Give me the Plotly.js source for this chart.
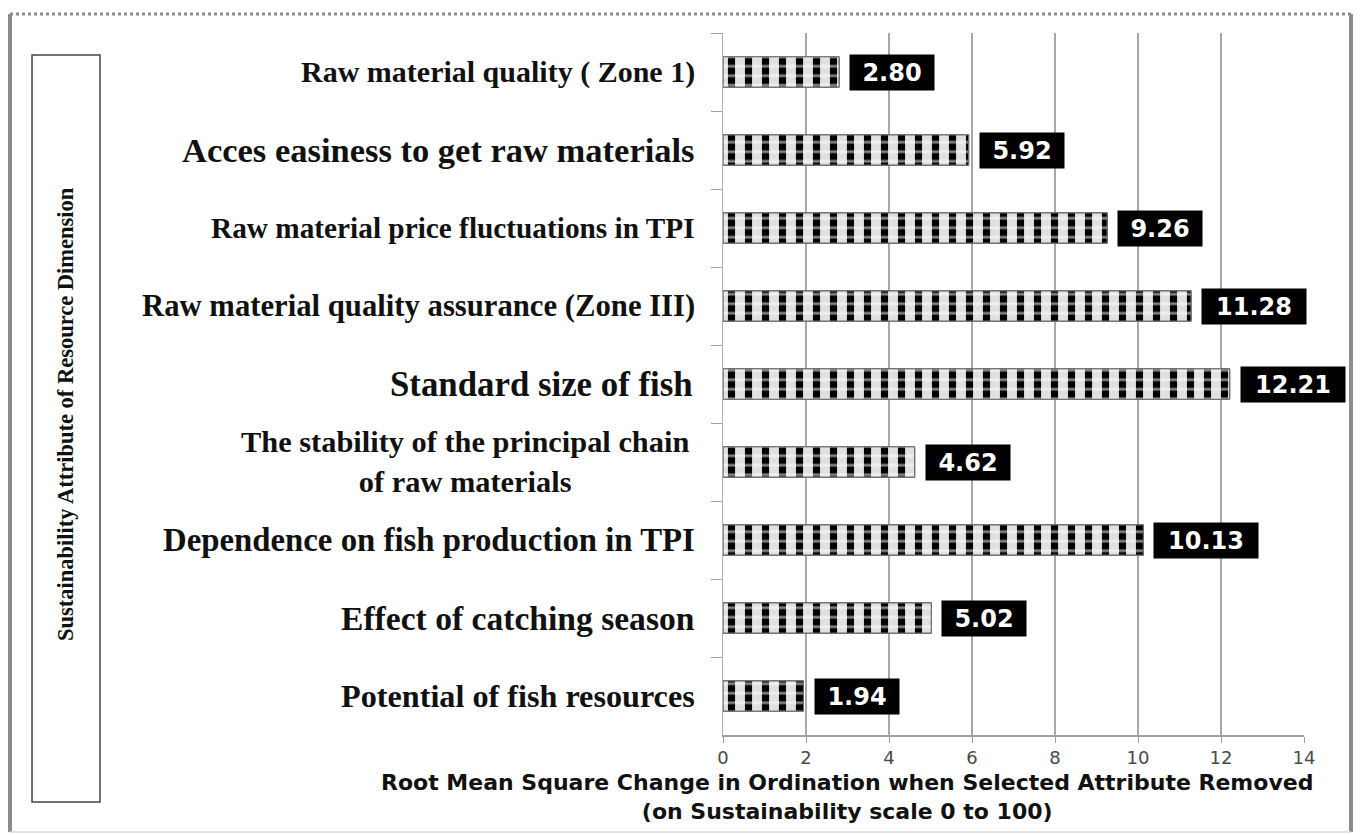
<!DOCTYPE html>
<html>
<head>
<meta charset="utf-8">
<script src="https://cdn.plot.ly/plotly-3.0.1.min.js"></script>
<style>
  html, body { margin: 0; padding: 0; background: #ffffff; }
  #chart { width: 1360px; height: 835px; }
</style>
</head>
<body>
<div id="chart"></div>
<script>
// Attributes of the resource dimension, listed top to bottom
const attributes = [
  "Raw material quality ( Zone 1)",
  "Acces easiness to get raw materials",
  "Raw material price fluctuations in TPI",
  "Raw material quality assurance (Zone III)",
  "Standard size of fish",
  "The stability of the principal chain<br>of raw materials",
  "Dependence on fish production in TPI",
  "Effect of catching season",
  "Potential of fish resources"
];

// Root mean square change for each attribute
const rmsChange = [2.80, 5.92, 9.26, 11.28, 12.21, 4.62, 10.13, 5.02, 1.94];

// Axis ticks
const xTicks = [0, 2, 4, 6, 8, 10, 12, 14];

// Text
const xTitle = "Root Mean Square Change in Ordination when Selected Attribute Removed<br>(on Sustainability scale 0 to 100)";
const yTitle = "Sustainability Attribute of Resource Dimension";

// Per-label font sizes and right-edge offsets for the attribute names
const labelSizes = [30, 34.5, 29.3, 30.7, 34.8, 30.4, 32.8, 33.6, 32.2];
const labelShift = [-26, -26, -26, -26, -28, -32, -26, -26, -26];

const barWidth = 0.39;

// Base fill: black vertical blocks on a pale ground
const barBase = {
  type: "bar",
  orientation: "h",
  x: rmsChange,
  y: attributes,
  width: barWidth,
  marker: {
    color: "#e0e0e0",
    line: { color: "#6a6a6a", width: 1 },
    pattern: { shape: "|", fgcolor: "#000000", bgcolor: "#e0e0e0", size: 17, solidity: 0.42 }
  },
  hoverinfo: "skip",
  showlegend: false
};

// Overlay: thin white rows that cut the blocks into a checker texture
const barTexture = {
  type: "bar",
  orientation: "h",
  x: rmsChange,
  y: attributes,
  width: barWidth,
  marker: {
    color: "rgba(0,0,0,0)",
    line: { color: "#6a6a6a", width: 1 },
    pattern: { shape: "-", fgcolor: "#ffffff", size: 9.5, solidity: 0.3, fillmode: "overlay" }
  },
  hoverinfo: "skip",
  showlegend: false
};

// Value boxes next to each bar
const valueNotes = rmsChange.map(function (v, i) {
  const t = v.toFixed(2);
  return {
    xref: "x", yref: "y", x: v, y: attributes[i],
    text: t, showarrow: false, xanchor: "left", yanchor: "middle", xshift: 10,
    width: 20 * t.length + 2, height: 33, bgcolor: "#000000", align: "center", valign: "middle",
    font: { family: "DejaVu Sans", size: 24, color: "#ffffff", weight: "bold" }
  };
});

// Attribute names, right-aligned against the plot (wrapped lines centred)
const labelNotes = attributes.map(function (name, i) {
  return {
    xref: "paper", yref: "y", x: 0, y: name, xshift: labelShift[i],
    text: "<b>" + name + "</b>", showarrow: false,
    xanchor: "right", yanchor: "middle", align: "center",
    font: { family: "Liberation Serif", size: labelSizes[i], color: "#111111" }
  };
});

const otherNotes = [
  {
    xref: "paper", yref: "paper", x: 0.2134, y: -0.0883,
    text: "<b>" + xTitle + "</b>", showarrow: false, xanchor: "center", yanchor: "middle", align: "center",
    font: { family: "DejaVu Sans", size: 22, color: "#111111" }
  },
  {
    xref: "paper", yref: "paper", x: -1.1308, y: 0.4573, textangle: -90,
    text: "<b>" + yTitle + "</b>", showarrow: false, xanchor: "center", yanchor: "middle",
    font: { family: "Liberation Serif", size: 22.5, color: "#111111" }
  }
];

const frameColor = "#8c8c8c";
const shapes = [
  // box around the vertical axis title
  { type: "rect", xref: "paper", yref: "paper", x0: -1.1893, x1: -1.0723, y0: -0.0954, y1: 0.9687,
    line: { color: "#444444", width: 1.5 }, fillcolor: "rgba(0,0,0,0)" },
  // outer frame
  { type: "line", xref: "paper", yref: "paper", x0: -1.2272, x1: -1.2272, y0: -0.1382, y1: 1.0271,
    line: { color: frameColor, width: 4 } },
  { type: "line", xref: "paper", yref: "paper", x0: 1.0809, x1: 1.0809, y0: -0.1382, y1: 1.0271,
    line: { color: frameColor, width: 4 } },
  { type: "line", xref: "paper", yref: "paper", x0: -1.2272, x1: 1.0809, y0: 1.0271, y1: 1.0271,
    line: { color: frameColor, width: 3, dash: "dot" } },
  { type: "line", xref: "paper", yref: "paper", x0: -1.2272, x1: 1.0809, y0: -0.1382, y1: -0.1382,
    line: { color: "#d8d8d8", width: 1.5 } }
];

const layout = {
  width: 1360,
  height: 835,
  margin: { l: 723, r: 56, t: 33, b: 100 },
  paper_bgcolor: "#ffffff",
  plot_bgcolor: "#ffffff",
  showlegend: false,
  barmode: "overlay",
  xaxis: {
    range: [0, 14],
    tickvals: xTicks,
    ticktext: xTicks.map(String),
    showgrid: true,
    gridcolor: "#a8a8a8",
    gridwidth: 1.5,
    zeroline: false,
    showline: true,
    linecolor: "#a0a0a0",
    linewidth: 1.5,
    ticks: "outside",
    ticklen: 6,
    tickcolor: "#a0a0a0",
    tickfont: { family: "DejaVu Sans", size: 18, color: "#4a4a4a" },
    fixedrange: true
  },
  yaxis: {
    type: "category",
    autorange: "reversed",
    showticklabels: false,
    showgrid: false,
    zeroline: false,
    showline: true,
    linecolor: "#b0b0b0",
    linewidth: 1.5,
    ticks: "outside",
    tickson: "boundaries",
    ticklen: 11,
    tickcolor: "#a0a0a0",
    fixedrange: true
  },
  annotations: valueNotes.concat(labelNotes, otherNotes),
  shapes: shapes
};

Plotly.newPlot("chart", [barBase, barTexture], layout, { displayModeBar: false, staticPlot: true });
</script>
</body>
</html>
